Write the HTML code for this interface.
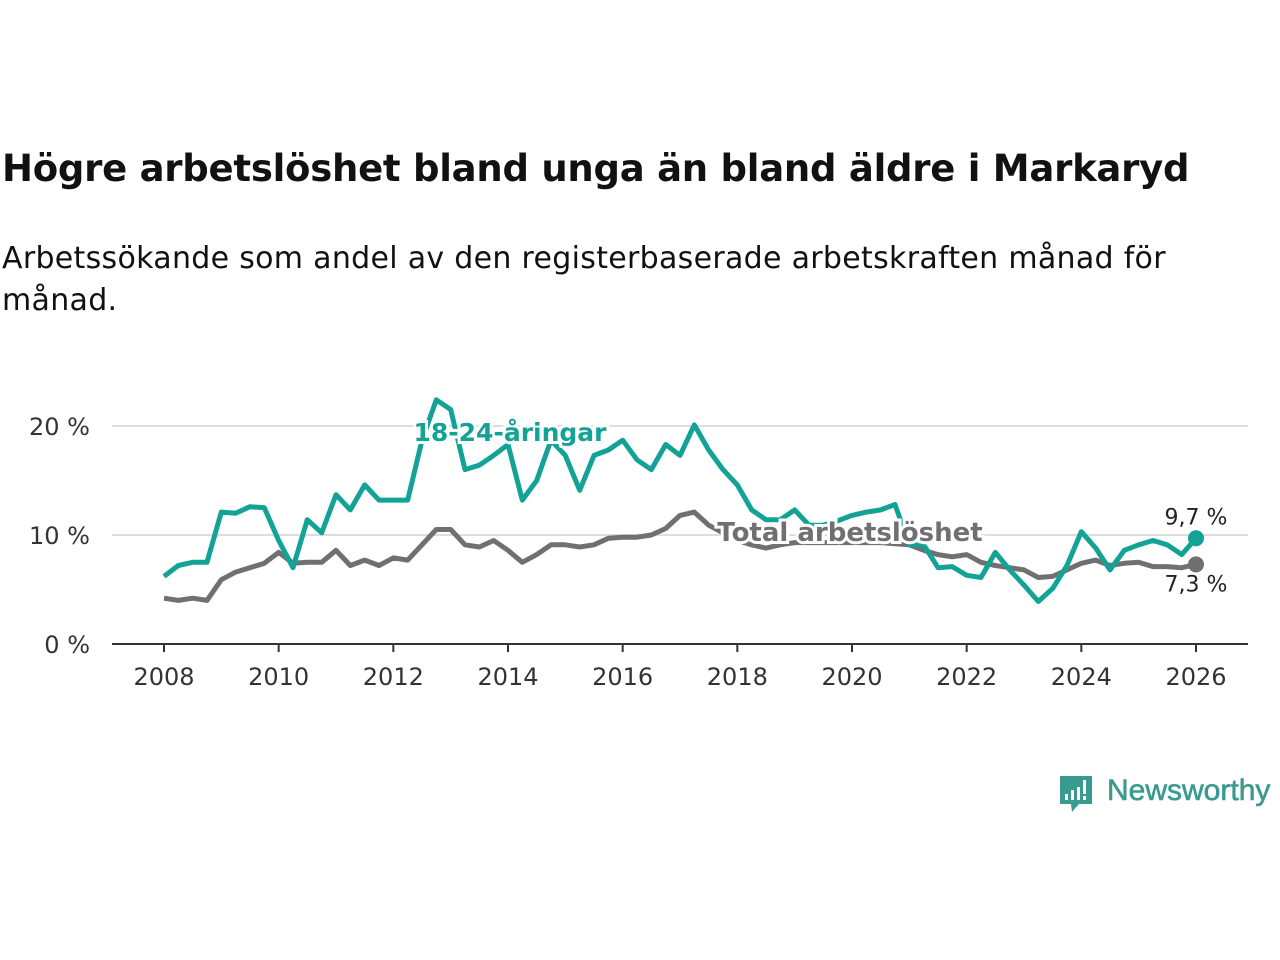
<!DOCTYPE html>
<html><head><meta charset="utf-8"><style>
body{margin:0;width:1280px;height:960px;background:#fff;position:relative;overflow:hidden;font-family:"Liberation Sans","DejaVu Sans",sans-serif;}
h1{position:absolute;left:2px;top:147px;margin:0;font-size:37px;font-weight:bold;color:#111;font-family:"DejaVu Sans","Liberation Sans",sans-serif;letter-spacing:-0.25px;white-space:nowrap;}
.sub{position:absolute;left:2px;top:238px;margin:0;font-size:30px;line-height:42px;color:#111;width:1200px;font-family:"DejaVu Sans","Liberation Sans",sans-serif;letter-spacing:0.3px;}
svg{position:absolute;left:0;top:0;}
</style></head><body>
<h1>Högre arbetslöshet bland unga än bland äldre i Markaryd</h1>
<p class="sub">Arbetssökande som andel av den registerbaserade arbetskraften månad för månad.</p>
<svg id="chart" width="1280" height="960"></svg>
<div style="position:absolute;left:1059px;top:774px;width:220px;height:44px;">
<svg width="36" height="44" style="left:0;top:0"><path d="M1 2h32v28H20l-7 8-1-8H1z" fill="#3a9a8f"/><rect x="6" y="20" width="3" height="6" fill="#fff"/><rect x="12" y="16" width="3" height="10" fill="#fff"/><rect x="18" y="13" width="3" height="13" fill="#fff"/><rect x="24" y="6" width="3" height="14" fill="#fff"/><rect x="24" y="22" width="3" height="4" fill="#fff"/></svg>
<span style="position:absolute;left:48px;top:0px;font-size:30px;color:#3a9a8f;font-family:'Liberation Sans',sans-serif;-webkit-text-stroke:0.6px #3a9a8f;">Newsworthy</span>
</div>
<script>
const years=[2008,2010,2012,2014,2016,2018,2020,2022,2024,2026];
const yTicks=[0,10,20];
const startYear=2008, step=0.25;
const youth=[6.2,7.2,7.5,7.5,12.1,12,12.6,12.5,9.5,7,11.4,10.2,13.7,12.3,14.6,13.2,13.2,13.2,18.7,22.4,21.5,16,16.4,17.3,18.3,13.2,15,18.7,17.3,14.1,17.3,17.8,18.7,16.9,16,18.3,17.3,20.1,17.8,16,14.6,12.3,11.4,11.4,12.3,10.9,10.9,11.3,11.8,12.1,12.3,12.8,9.1,9.1,7,7.1,6.3,6.1,8.4,6.8,5.4,3.9,5.1,7.2,10.3,8.8,6.8,8.6,9.1,9.5,9.1,8.2,9.7];
const total=[4.2,4,4.2,4,5.9,6.6,7,7.4,8.4,7.4,7.5,7.5,8.6,7.2,7.7,7.2,7.9,7.7,9.1,10.5,10.5,9.1,8.9,9.5,8.6,7.5,8.2,9.1,9.1,8.9,9.1,9.7,9.8,9.8,10,10.6,11.8,12.1,10.9,10.2,9.5,9.1,8.8,9.1,9.3,9.3,9.3,9.3,9.3,9.3,9.3,9.2,9.1,8.6,8.2,8,8.2,7.5,7.2,7,6.8,6.1,6.2,6.8,7.4,7.7,7.2,7.4,7.5,7.1,7.1,7,7.3];
const X=t=>164+(t-2008)*(1196-164)/18;
const Y=v=>644-v*10.9;
const svg=document.getElementById('chart');
const NS='http://www.w3.org/2000/svg';
function mk(tag,attrs,txt){const e=document.createElementNS(NS,tag);for(const k in attrs)e.setAttribute(k,attrs[k]);if(txt!=null)e.textContent=txt;svg.appendChild(e);return e;}
yTicks.forEach(v=>{
 if(v>0){const g=mk('line',{x1:112,x2:1248,y1:Y(v),y2:Y(v),stroke:'#ddd','stroke-width':2});
 
 }
 const t=mk('text',{x:90,y:Y(v)+9,'text-anchor':'end','font-size':24,fill:'#333','font-family':'DejaVu Sans, Liberation Sans, sans-serif'},v+' %');
 
 
});
const ax=mk('line',{x1:112,x2:1248,y1:644,y2:644,stroke:'#333','stroke-width':2});


years.forEach(y=>{
 const tk=mk('line',{x1:X(y),x2:X(y),y1:644,y2:652,stroke:'#333','stroke-width':2});
 
 
 const t=mk('text',{x:X(y),y:685,'text-anchor':'middle','font-size':24,fill:'#333','font-family':'DejaVu Sans, Liberation Sans, sans-serif'},y);
 
 
});
function path(arr){return arr.map((v,i)=>(i?'L':'M')+X(startYear+i*step).toFixed(1)+','+Y(v).toFixed(1)).join('');}
const pt=mk('path',{d:path(total),fill:'none',stroke:'#706f72','stroke-width':5,'stroke-linejoin':'round'});


const py=mk('path',{d:path(youth),fill:'none',stroke:'#13a396','stroke-width':5,'stroke-linejoin':'round'});


const lastI=youth.length-1, tx=X(startYear+lastI*step);
const d1=mk('circle',{cx:tx,cy:Y(youth[lastI]),r:8,fill:'#13a396'});


const d2=mk('circle',{cx:tx,cy:Y(total[lastI]),r:8,fill:'#706f72'});


const f=v=>v.toFixed(1).replace('.',',')+' %';
const v1=mk('text',{x:tx,y:Y(youth[lastI])-14,'text-anchor':'middle','font-size':22,fill:'#222','font-family':'DejaVu Sans, Liberation Sans, sans-serif'},f(youth[lastI]));


const v2=mk('text',{x:tx,y:Y(total[lastI])+27,'text-anchor':'middle','font-size':22,fill:'#222','font-family':'DejaVu Sans, Liberation Sans, sans-serif'},f(total[lastI]));


const l1=mk('text',{x:510,y:441,'text-anchor':'middle','font-size':25,'font-weight':'bold',fill:'#13a396',stroke:'#fff','stroke-width':6,'paint-order':'stroke','font-family':'DejaVu Sans, Liberation Sans, sans-serif'},'18-24-åringar');


const l2=mk('text',{x:850,y:541,'text-anchor':'middle','font-size':26,'font-weight':'bold',fill:'#706f72',stroke:'#fff','stroke-width':6,'paint-order':'stroke','font-family':'DejaVu Sans, Liberation Sans, sans-serif'},'Total arbetslöshet');


</script>
</body></html>
